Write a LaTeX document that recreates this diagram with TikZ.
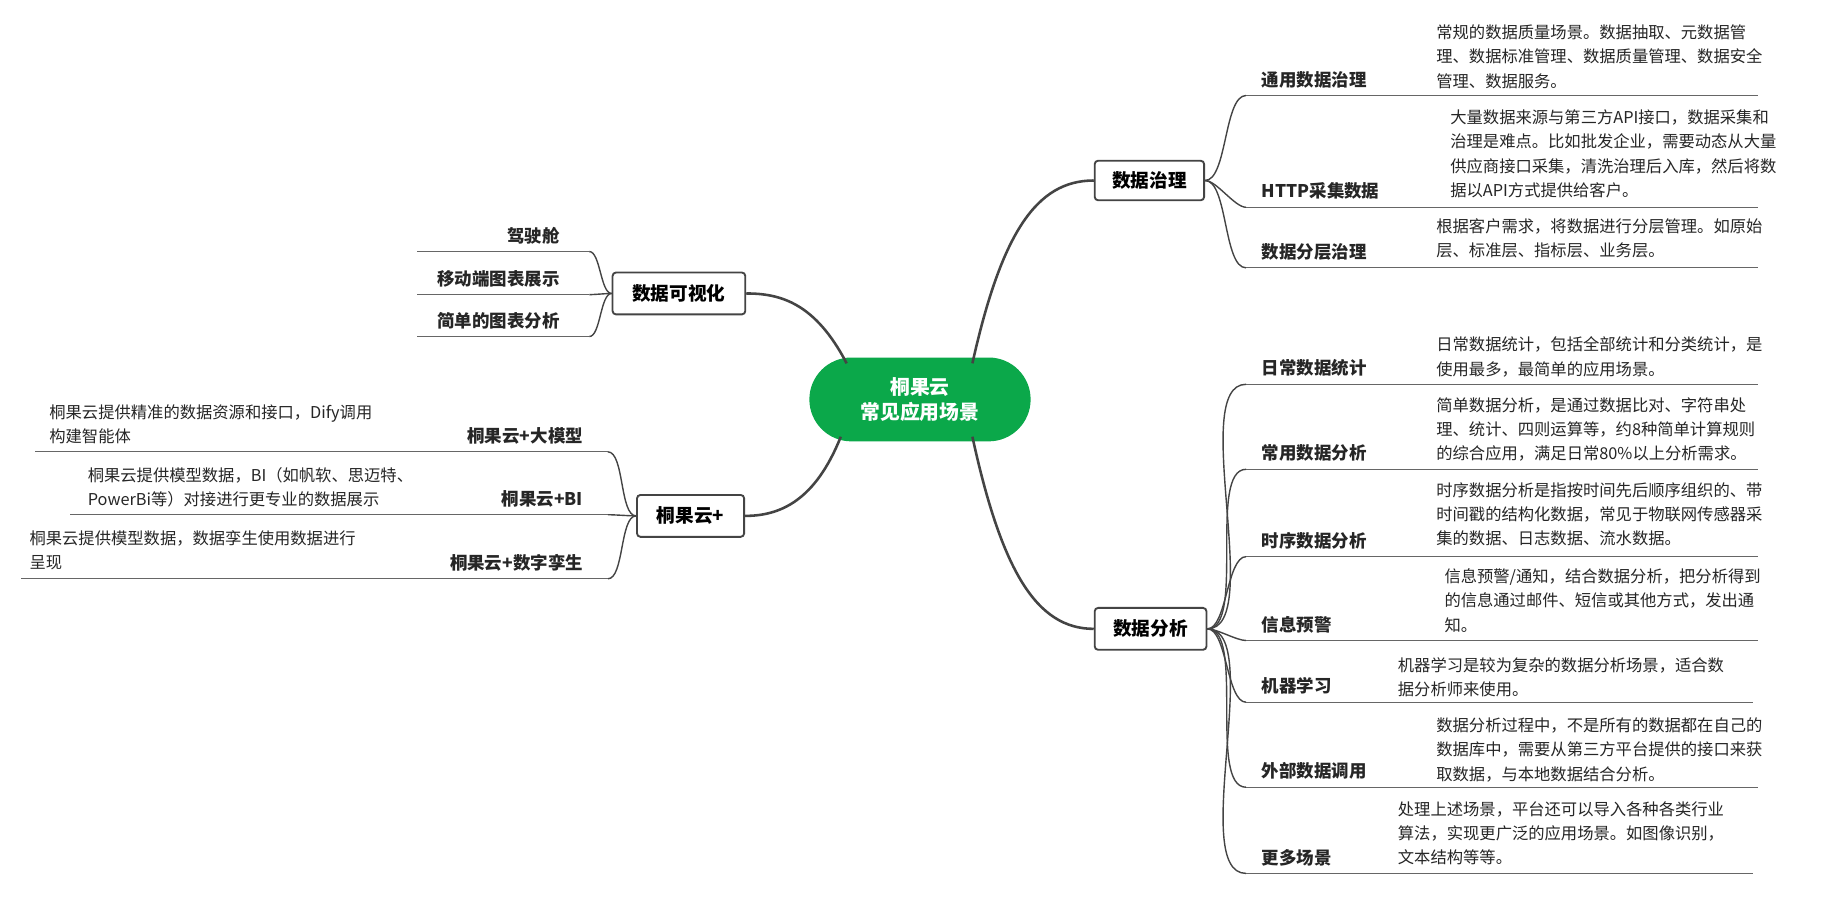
\documentclass[tikz,border=0pt]{standalone}
\usepackage{fontspec}
\setmainfont{Noto Sans CJK SC}
\definecolor{tgreen}{HTML}{0BA84A}
\definecolor{lin}{HTML}{444444}
\definecolor{ul}{HTML}{666666}
\begin{document}
\begin{tikzpicture}[x=0.5pt,y=-0.5pt,
  mainbox/.style={draw=lin,line width=0.8pt,rounded corners=1.5pt,fill=white,font=\fontsize{8}{10}\selectfont\bfseries,inner sep=0pt},
  lbl/.style={font=\fontsize{7.5}{9}\selectfont\bfseries,text=black!85,inner sep=0pt},
  desc/.style={font=\fontsize{7}{10.4}\selectfont,text=black!85,align=left,inner sep=0pt},
  trunk/.style={draw=lin,line width=1.1pt},
  twig/.style={draw=lin,line width=0.6pt},
  uline/.style={draw=ul,line width=0.5pt}]
\useasboundingbox (0,0) rectangle (1568,770);
\fill[white] (0,0) rectangle (1568,770);
% center
\node[fill=tgreen,rounded corners=18pt,minimum width=95pt,minimum height=36pt,text=white,font=\fontsize{8.5}{11}\selectfont\bfseries,align=center] (c) at (790,343) {桐果云\\常见应用场景};
% main boxes
\node[mainbox,minimum width=47pt,minimum height=17pt] (zl) at (987,155) {数据治理};
\node[mainbox,minimum width=48pt,minimum height=18pt] (fx) at (988,540) {数据分析};
\node[mainbox,minimum width=57pt,minimum height=18pt] (ks) at (583,252) {数据可视化};
\node[mainbox,minimum width=46pt,minimum height=18pt] (tp) at (593,443) {桐果云+};
\coordinate (c1) at (835,312); \coordinate (c2) at (835,375);
\coordinate (c3) at (727,312); \coordinate (c4) at (722,375);
\draw[trunk] (c1) .. controls (860,200) and (890,155) .. (zl.west);
\draw[trunk] (c2) .. controls (860,490) and (890,540) .. (fx.west);
\draw[trunk] (c3) .. controls (700,260) and (670,252) .. (ks.east);
\draw[trunk] (c4) .. controls (700,430) and (670,443) .. (tp.east);
% right leaves
\foreach \n/\p/\uy/\ue/\t in {
 a/zl/82/1510/通用数据治理, b/zl/178/1510/HTTP采集数据, d/zl/230/1510/数据分层治理,
 e/fx/330/1510/日常数据统计, f/fx/403/1510/常用数据分析, g/fx/478/1510/时序数据分析,
 h/fx/550/1510/信息预警/通知, i/fx/603/1505/机器学习, j/fx/676/1510/外部数据调用, k/fx/750/1505/更多场景}{
  \coordinate (s\n) at (1070,\uy);
  \coordinate (e\n) at (\ue,\uy);
  \draw[twig] (\p.east) to[out=0,in=180,looseness=0.6] (s\n);
  \draw[uline] (s\n) -- (e\n);
  \node[lbl,anchor=base west] (l\n) at (1083,\uy-8) {\t};
}
\node[desc,anchor=north west] (da) at (1233,21) {常规的数据质量场景。数据抽取、元数据管\\理、数据标准管理、数据质量管理、数据安全\\管理、数据服务。};
\node[desc,anchor=north west] (db) at (1245,94) {大量数据来源与第三方API接口，数据采集和\\治理是难点。比如批发企业，需要动态从大量\\供应商接口采集，清洗治理后入库，然后将数\\据以API方式提供给客户。};
\node[desc,anchor=north west] (dd) at (1233,187) {根据客户需求，将数据进行分层管理。如原始\\层、标准层、指标层、业务层。};
\node[desc,anchor=north west] (de) at (1233,289) {日常数据统计，包括全部统计和分类统计，是\\使用最多，最简单的应用场景。};
\node[desc,anchor=north west] (df) at (1233,341) {简单数据分析，是通过数据比对、字符串处\\理、统计、四则运算等，约8种简单计算规则\\的综合应用，满足日常80\%以上分析需求。};
\node[desc,anchor=north west] (dg) at (1233,414) {时序数据分析是指按时间先后顺序组织的、带\\时间戳的结构化数据，常见于物联网传感器采\\集的数据、日志数据、流水数据。};
\node[desc,anchor=north west] (dh) at (1240,488) {信息预警/通知，结合数据分析，把分析得到\\的信息通过邮件、短信或其他方式，发出通\\知。};
\node[desc,anchor=north west] (di) at (1200,564) {机器学习是较为复杂的数据分析场景，适合数\\据分析师来使用。};
\node[desc,anchor=north west] (dj) at (1233,616) {数据分析过程中，不是所有的数据都在自己的\\数据库中，需要从第三方平台提供的接口来获\\取数据，与本地数据结合分析。};
\node[desc,anchor=north west] (dk) at (1200,688) {处理上述场景，平台还可以导入各种各类行业\\算法，实现更广泛的应用场景。如图像识别，\\文本结构等等。};
% left: visualisation
\foreach \n/\uy/\t in {m/216/驾驶舱/仪表板, n/253/移动端图表展示, o/289/简单的图表分析}{
  \coordinate (s\n) at (506,\uy); \coordinate (e\n) at (358,\uy);
  \draw[twig] (ks.west) to[out=180,in=0,looseness=0.6] (s\n);
  \draw[uline] (s\n) -- (e\n);
  \node[lbl,anchor=base east] (l\n) at (481,\uy-8) {\t};
}
% left: tgy+
\foreach \n/\uy/\ue/\t in {p/388/30/桐果云+大模型, q/442/60/桐果云+BI, r/497/18/桐果云+数字孪生}{
  \coordinate (s\n) at (522,\uy); \coordinate (e\n) at (\ue,\uy);
  \draw[twig] (tp.west) to[out=180,in=0,looseness=0.6] (s\n);
  \draw[uline] (s\n) -- (e\n);
  \node[lbl,anchor=base east] (l\n) at (501,\uy-8) {\t};
}
\node[desc,anchor=north west] (dp) at (42,347) {桐果云提供精准的数据资源和接口，Dify调用\\构建智能体};
\node[desc,anchor=north west] (dq) at (75,401) {桐果云提供模型数据，BI（如帆软、思迈特、\\PowerBi等）对接进行更专业的数据展示};
\node[desc,anchor=north west] (dr) at (25,455) {桐果云提供模型数据，数据孪生使用数据进行\\呈现};
\end{tikzpicture}
\end{document}
